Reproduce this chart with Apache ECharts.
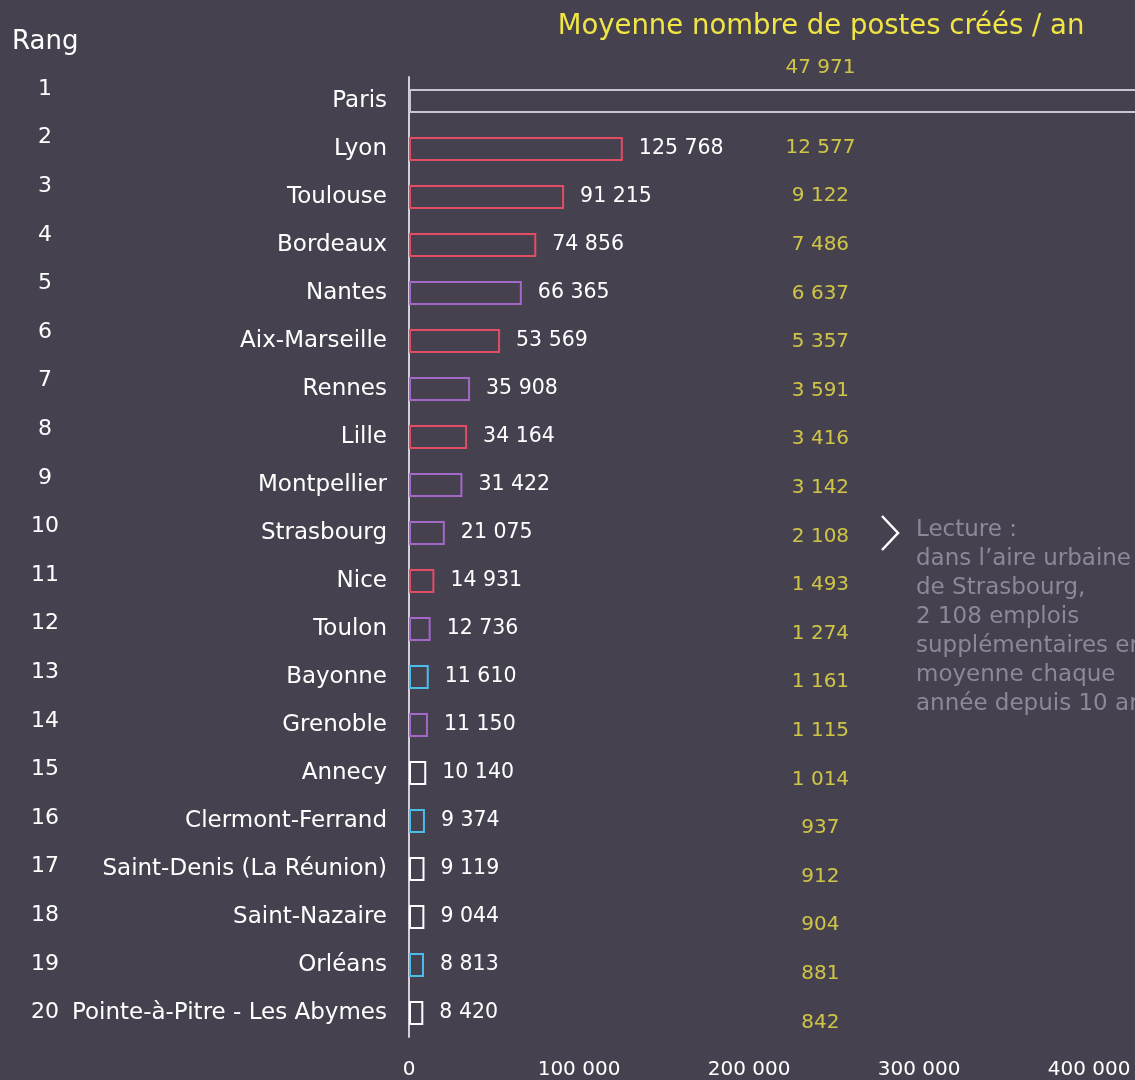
<!DOCTYPE html>
<html lang="fr">
<head>
    <meta charset="UTF-8">
    <title>Postes créés par aire urbaine</title>
    <script src="https://cdn.jsdelivr.net/npm/echarts@6/dist/echarts.min.js"></script>
    <style>
        * {
            margin: 0;
            padding: 0;
            box-sizing: border-box;
        }

        body {
            background-color: #45414f;
        }

        #chart {
            width: 1135px;
            height: 1080px;
        }
    </style>
</head>
<body>
    <div id="chart"></div>

    <script>
        // données
        const villes = ['Paris', 'Lyon', 'Toulouse', 'Bordeaux', 'Nantes', 'Aix-Marseille', 'Rennes', 'Lille',
            'Montpellier', 'Strasbourg', 'Nice', 'Toulon', 'Bayonne', 'Grenoble', 'Annecy', 'Clermont-Ferrand',
            'Saint-Denis (La Réunion)', 'Saint-Nazaire', 'Orléans', 'Pointe-à-Pitre - Les Abymes'];
        const rangs = ['1', '2', '3', '4', '5', '6', '7', '8', '9', '10', '11', '12', '13', '14', '15', '16', '17', '18', '19', '20'];
        const postesCrees = [479710, 125768, 91215, 74856, 66365, 53569, 35908, 34164, 31422, 21075,
            14931, 12736, 11610, 11150, 10140, 9374, 9119, 9044, 8813, 8420];
        const moyenneParAn = [47971, 12577, 9122, 7486, 6637, 5357, 3591, 3416, 3142, 2108,
            1493, 1274, 1161, 1115, 1014, 937, 912, 904, 881, 842];
        const groupes = ['paris', 'rouge', 'rouge', 'rouge', 'violet', 'rouge', 'violet', 'rouge', 'violet', 'violet',
            'rouge', 'violet', 'cyan', 'violet', 'blanc', 'cyan', 'blanc', 'blanc', 'cyan', 'blanc'];
        const ticksX = [0, 100000, 200000, 300000, 400000];

        const couleurs = {
            paris: '#c9c5d1',
            rouge: '#e34d63',
            violet: '#a368c8',
            cyan: '#4cbde9',
            blanc: '#ffffff'
        };

        const police = 'DejaVu Sans';
        const maxX = 427000;           // l'axe continue au-delà du bord droit
        const colonneMoyenne = 242000; // position horizontale de la colonne jaune

        // 12345 -> "12 345"
        function fmt(v) {
            return String(v).replace(/\B(?=(\d{3})+(?!\d))/g, ' ');
        }

        const chart = echarts.init(document.getElementById('chart'));

        chart.setOption({
            backgroundColor: '#45414f',
            animation: false,
            grid: [
                { left: 409, top: 77, right: 0, height: 960 },
                { left: 409, top: 64.7, right: 0, height: 972 }
            ],
            xAxis: [{
                gridIndex: 0,
                type: 'value',
                min: 0,
                max: maxX,
                interval: 100000,
                axisLine: { show: false },
                axisTick: { show: false },
                splitLine: { show: false },
                axisLabel: {
                    color: '#ffffff',
                    fontFamily: police,
                    fontSize: 20,
                    margin: 23,
                    showMaxLabel: false,
                    formatter: v => ticksX.includes(v) ? fmt(v) : ''
                }
            }, {
                gridIndex: 1,
                type: 'value',
                min: 0,
                max: maxX,
                show: false
            }],
            yAxis: [{
                gridIndex: 0,
                type: 'category',
                inverse: true,
                data: villes,
                axisLine: { lineStyle: { color: '#d3cfdb', width: 2 } },
                axisTick: { show: false },
                axisLabel: {
                    color: '#ffffff',
                    fontFamily: police,
                    fontSize: 23,
                    margin: 22
                }
            }, {
                gridIndex: 1,
                type: 'category',
                inverse: true,
                data: rangs,
                axisLine: { show: false },
                axisTick: { show: false },
                axisLabel: {
                    color: '#ffffff',
                    fontFamily: police,
                    fontSize: 22,
                    align: 'center',
                    margin: 364
                }
            }],
            series: [{
                type: 'bar',
                xAxisIndex: 0,
                yAxisIndex: 0,
                barWidth: 24,
                clip: false, // Paris sort du cadre, sans bord droit visible
                data: postesCrees.map((v, i) => ({
                    value: v,
                    itemStyle: {
                        color: 'rgba(0,0,0,0)',
                        borderColor: couleurs[groupes[i]],
                        borderWidth: 2
                    },
                    label: { show: i > 0 }
                })),
                label: {
                    position: 'right',
                    distance: 16,
                    color: '#ffffff',
                    fontFamily: police,
                    fontSize: 20.5,
                    formatter: p => fmt(p.value)
                }
            }, {
                type: 'scatter',
                xAxisIndex: 1,
                yAxisIndex: 1,
                symbolSize: 0,
                data: moyenneParAn.map((v, i) => ({
                    value: [colonneMoyenne, i],
                    label: { offset: [0, i === 0 ? -21 : 10] }
                })),
                label: {
                    show: true,
                    position: 'inside',
                    color: '#f0e545',
                    fontFamily: police,
                    fontSize: 20,
                    formatter: p => fmt(moyenneParAn[p.dataIndex])
                }
            }],
            graphic: [{
                type: 'text',
                x: 821,
                y: 27,
                style: {
                    text: 'Moyenne nombre de postes créés / an',
                    fill: '#f0e545',
                    font: '27.5px "DejaVu Sans"',
                    align: 'center',
                    verticalAlign: 'middle'
                }
            }, {
                type: 'text',
                x: 12,
                y: 42,
                style: {
                    text: 'Rang',
                    fill: '#ffffff',
                    font: '26px "DejaVu Sans"',
                    verticalAlign: 'middle'
                }
            }, {
                type: 'polyline',
                shape: { points: [[882, 516], [898, 533], [882, 550]] },
                style: { stroke: '#ffffff', lineWidth: 2.5, fill: null }
            }, {
                type: 'text',
                x: 916,
                y: 516,
                style: {
                    text: 'Lecture :\ndans l\u2019aire urbaine\nde Strasbourg,\n2 108 emplois\nsupplémentaires en\nmoyenne chaque\nannée depuis 10 ans',
                    fill: '#8c8898',
                    font: '23px "DejaVu Sans"',
                    lineHeight: 29
                }
            }]
        });
    </script>
</body>
</html>
